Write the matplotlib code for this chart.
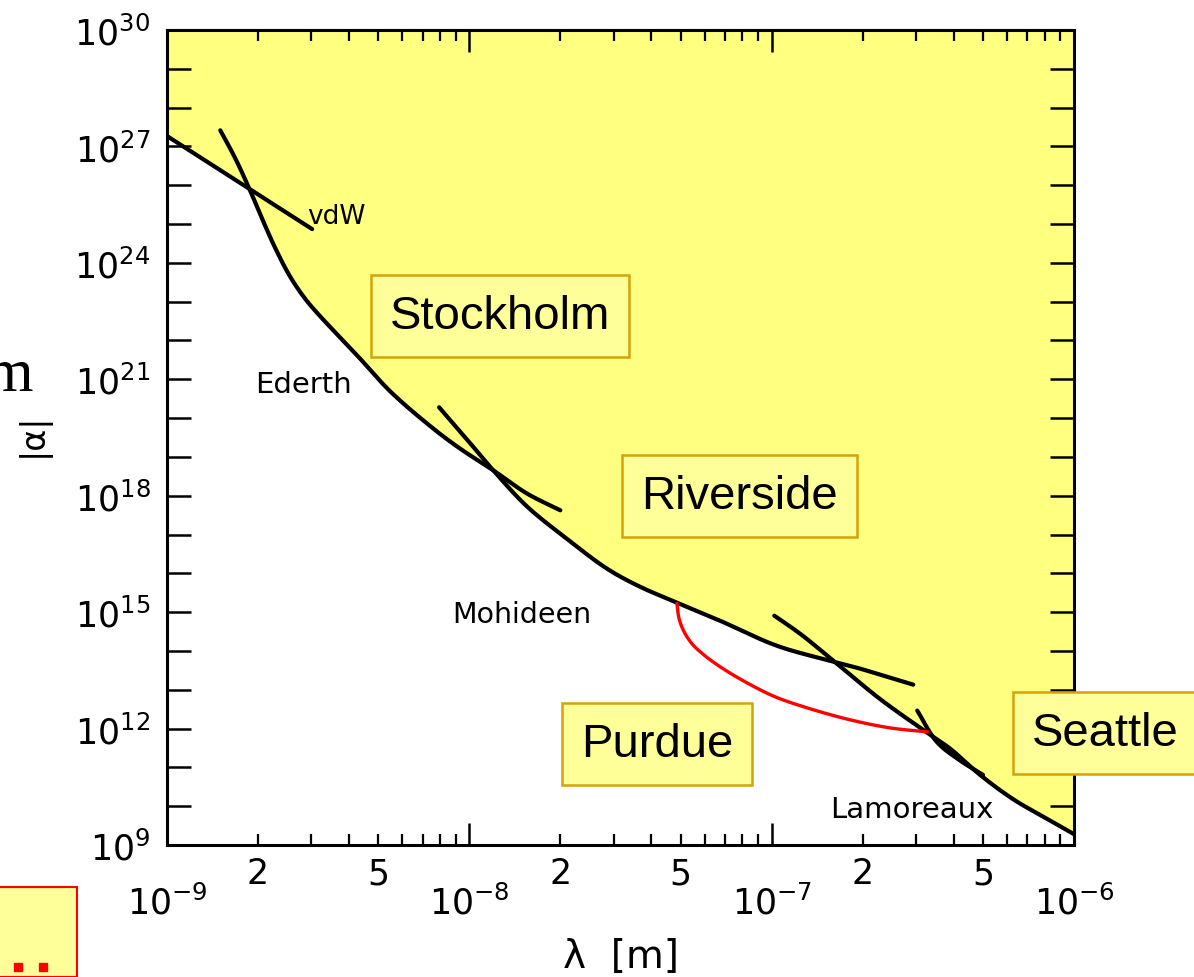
import numpy as np
import matplotlib
matplotlib.use('Agg')
import matplotlib.pyplot as plt
from matplotlib import ticker
from matplotlib.patches import Rectangle
from matplotlib.lines import Line2D

# limits on |alpha| vs lambda
vdw_lam = [1.0e-9, 3.02e-9]
vdw_alpha = [1.85e27, 7.4e24]

ederth_lam = [1.5e-9, 1.68e-9, 1.88e-9, 2.06e-9, 2.28e-9, 2.55e-9, 2.86e-9, 3.21e-9,
              4.19e-9, 5.47e-9, 7.59e-9, 9.3e-9, 1.2e-8, 1.55e-8, 2.0e-8]
ederth_alpha = [2.6e27, 5.0e26, 7.5e25, 1.4e25, 2.4e24, 4.5e23, 1.2e23, 4.2e22,
                4.7e21, 4.9e20, 5.4e19, 1.65e19, 4.5e18, 1.14e18, 4.2e17]

mohideen_lam = [7.94e-9, 9.75e-9, 1.2e-8, 1.55e-8, 2.1e-8, 2.86e-8, 3.67e-8, 4.86e-8,
                6.75e-8, 1.04e-7, 1.6e-7, 1.96e-7, 2.34e-7, 2.94e-7]
mohideen_alpha = [1.9e20, 3.0e19, 4.5e18, 5.3e17, 7.8e16, 1.3e16, 4.5e15, 1.76e15,
                  6.0e14, 1.36e14, 5.3e13, 3.5e13, 2.3e13, 1.35e13]

riverside_lam = [1.02e-7, 1.24e-7, 1.6e-7, 2.28e-7, 3.27e-7, 3.9e-7, 4.89e-7, 6.3e-7,
                 8.15e-7, 1.0e-6]
riverside_alpha = [8.1e14, 2.8e14, 5.6e13, 5.8e12, 7.8e11, 3.0e11, 6.4e10, 1.5e10,
                   4.7e9, 1.9e9]

lamoreaux_lam = [3.03e-7, 3.52e-7, 4.2e-7, 5.0e-7]
lamoreaux_alpha = [2.9e12, 4.5e11, 1.5e11, 6.4e10]

purdue_lam = [4.86e-8, 4.94e-8, 5.13e-8, 5.45e-8, 5.93e-8, 6.75e-8, 8.17e-8, 1.026e-7,
              1.34e-7, 1.816e-7, 2.46e-7, 3.27e-7]
purdue_alpha = [1.65e15, 6.78e14, 3.13e14, 1.53e14, 8.22e13, 3.91e13, 1.60e13, 6.58e12,
                3.23e12, 1.68e12, 1.04e12, 8.2e11]

black_curves = [(vdw_lam, vdw_alpha), (ederth_lam, ederth_alpha),
                (mohideen_lam, mohideen_alpha), (riverside_lam, riverside_alpha),
                (lamoreaux_lam, lamoreaux_alpha)]

# labels: (text, x, y, size) in axes fraction
curve_labels = [('vdW', 0.155, 0.772, 19), ('Ederth', 0.097, 0.566, 21),
                ('Mohideen', 0.315, 0.283, 20.5), ('Lamoreaux', 0.731, 0.044, 21)]
group_labels = [('Stockholm', 0.367, 0.649), ('Riverside', 0.631, 0.428),
                ('Purdue', 0.540, 0.124), ('Seattle', 1.034, 0.137)]

FILL = '#ffff80'
BOXFACE = '#ffff99'
BOXEDGE = '#d4a30a'


def smooth(lam, alpha, n=24):
    # centripetal Catmull-Rom through the read points, in log-log space
    x = np.log10(lam)
    y = np.log10(alpha)
    if len(x) < 3:
        return np.array(lam), np.array(alpha)
    P = np.column_stack([x * 302.3, y * 38.76])  # roughly pixel-like scale
    P = np.vstack([2 * P[0] - P[1], P, 2 * P[-1] - P[-2]])
    out = []
    for i in range(1, len(P) - 2):
        p0, p1, p2, p3 = P[i - 1], P[i], P[i + 1], P[i + 2]
        t0 = 0.0
        t1 = t0 + np.linalg.norm(p1 - p0) ** 0.5
        t2 = t1 + np.linalg.norm(p2 - p1) ** 0.5
        t3 = t2 + np.linalg.norm(p3 - p2) ** 0.5
        t = np.linspace(t1, t2, n, endpoint=False)[:, None]
        a1 = (t1 - t) / (t1 - t0) * p0 + (t - t0) / (t1 - t0) * p1
        a2 = (t2 - t) / (t2 - t1) * p1 + (t - t1) / (t2 - t1) * p2
        a3 = (t3 - t) / (t3 - t2) * p2 + (t - t2) / (t3 - t2) * p3
        b1 = (t2 - t) / (t2 - t0) * a1 + (t - t0) / (t2 - t0) * a2
        b2 = (t3 - t) / (t3 - t1) * a2 + (t - t1) / (t3 - t1) * a3
        out.append((t2 - t) / (t2 - t1) * b1 + (t - t1) / (t2 - t1) * b2)
    out.append(P[-2][None, :])
    out = np.vstack(out)
    return 10 ** (out[:, 0] / 302.3), 10 ** (out[:, 1] / 38.76)


fig = plt.figure(figsize=(11.94, 9.78), dpi=100)
ax = fig.add_axes([0.1399, 0.1350, 0.7596, 0.8333])
ax.set_xscale('log')
ax.set_yscale('log')
ax.set_xlim(1e-9, 1e-6)
ax.set_ylim(1e9, 1e30)

smoothed = [smooth(l, a) for l, a in black_curves]

# excluded region: above the lowest of all the limits
grid = np.logspace(-9, -6, 1200)
lg = np.log10(grid)
env = np.full(grid.shape, np.inf)
for lam, alpha in smoothed:
    ll = np.log10(lam)
    la = np.log10(alpha)
    vals = np.interp(lg, ll, la)
    vals[(lg < ll[0]) | (lg > ll[-1])] = np.inf
    env = np.minimum(env, vals)
ax.fill_between(grid, 10 ** env, 1e30, color=FILL, lw=0, zorder=0)

for lam, alpha in smoothed:
    ax.plot(lam, alpha, color='black', lw=3, solid_capstyle='round', zorder=3)
pl, pa = smooth(purdue_lam, purdue_alpha)
ax.plot(pl, pa, color='#ff0000', lw=2.4, zorder=4)

for txt, x, y, fs in curve_labels:
    ax.text(x, y, txt, transform=ax.transAxes, fontsize=fs, va='center', ha='left',
            zorder=5)
for txt, x, y in group_labels:
    ax.text(x, y, txt, transform=ax.transAxes, fontsize=34, va='center', ha='center',
            family='Liberation Sans', zorder=6, clip_on=False,
            bbox=dict(boxstyle='square,pad=0.4', fc=BOXFACE, ec=BOXEDGE, lw=1.8))

# ticks
ax.yaxis.set_major_locator(ticker.FixedLocator([10.0 ** e for e in range(9, 31)]))
ax.yaxis.set_minor_locator(ticker.NullLocator())
ax.yaxis.set_major_formatter(ticker.FuncFormatter(
    lambda v, p: r'$10^{%d}$' % round(np.log10(v)) if round(np.log10(v)) % 3 == 0 else ''))
ax.xaxis.set_major_locator(ticker.LogLocator(base=10, numticks=10))
ax.xaxis.set_minor_locator(ticker.LogLocator(base=10, subs=np.arange(2, 10), numticks=10))
ax.xaxis.set_major_formatter(ticker.FuncFormatter(
    lambda v, p: r'$10^{%d}$' % round(np.log10(v))))


def minor_fmt(v, p):
    d = v / 10 ** np.floor(np.log10(v) + 1e-9)
    if abs(d - 2) < 0.01:
        return '2'
    if abs(d - 5) < 0.01:
        return '5'
    return ''


ax.xaxis.set_minor_formatter(ticker.FuncFormatter(minor_fmt))

ax.tick_params(which='both', direction='in', top=True, right=True, color='black',
               labelsize=25)
ax.tick_params(axis='y', which='major', length=17, width=1.8, pad=12)
ax.tick_params(axis='x', which='major', length=16, width=1.8, pad=28)
ax.tick_params(axis='x', which='minor', length=8, width=1.6, pad=8)
for s in ax.spines.values():
    s.set_linewidth(2.2)

ax.set_xlabel('λ  [m]', fontsize=28, labelpad=12)
fig.text(33 / 1194, 1 - 435 / 978, '|α|', rotation=90, fontsize=24,
         ha='center', va='center')
fig.text(33 / 1194, 1 - 376 / 978, 'm', family='Liberation Serif', fontsize=44,
         ha='right', va='center')

# piece of a red-edged box at the lower left corner of the slide
fig.add_artist(Rectangle((-0.01, 0), 77 / 1194 + 0.01, 90 / 978,
                         transform=fig.transFigure, fc=BOXFACE, ec='red', lw=1.5))
fig.add_artist(Line2D([18 / 1194, 43 / 1194], [1 - 968 / 978, 1 - 968 / 978],
                      transform=fig.transFigure, ls='none', marker='s', ms=6,
                      color='red'))

plt.savefig('out.png', dpi=100)
plt.close()
